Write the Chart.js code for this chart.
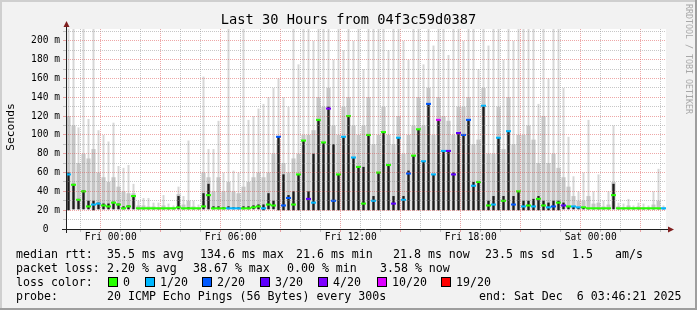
<!DOCTYPE html>
<html>
<head>
<meta charset="utf-8">
<title>Last 30 Hours from 04f3c59d0387</title>
<script src="https://cdn.jsdelivr.net/npm/chart.js@4.4.1/dist/chart.umd.min.js"></script>
<style>
  html, body { margin: 0; padding: 0; background: #f2f2f2; }
  #graph { position: relative; width: 697px; height: 310px; background: #f2f2f2; overflow: hidden;
           font-family: "DejaVu Sans Mono", monospace; color: #000; }
  #graph canvas { position: absolute; left: 0; top: 0; }
  .shade { position: absolute; }
  .txt { position: absolute; white-space: pre; font-size: 11.6px; line-height: 14px; }
  .box { position: absolute; top: 277px; width: 8px; height: 8px; border: 1px solid #000; }
  #title { position: absolute; left: 0; top: 11px; width: 697px; text-align: center;
           font-size: 13.7px; line-height: 16px; white-space: pre; }
  #ylabel { position: absolute; left: 10px; top: 127px; font-size: 11.3px; line-height: 13px;
            white-space: nowrap; transform: translate(-50%, -50%) rotate(-90deg); }
  #mark { position: absolute; left: 684px; top: 4px; writing-mode: vertical-rl; font-size: 8.3px;
          line-height: 10px; color: #a8a8a8; white-space: nowrap; }
</style>
</head>
<body>
<div id="graph">
  <canvas id="smoke" width="697" height="310"></canvas>
  <div class="shade" style="left:0;top:0;width:697px;height:2px;background:#cfcfcf"></div>
  <div class="shade" style="left:0;top:0;width:2px;height:310px;background:#cfcfcf"></div>
  <div class="shade" style="left:695px;top:0;width:2px;height:310px;background:#9e9e9e"></div>
  <div class="shade" style="left:0;top:308px;width:697px;height:2px;background:#9e9e9e"></div>

  <div id="title">Last 30 Hours from 04f3c59d0387</div>
  <div id="ylabel">Seconds</div>
  <div id="mark">RRDTOOL / TOBI OETIKER</div>

  <div class="txt" style="left:16px;top:247px">median rtt:</div>
  <div class="txt" style="left:107px;top:247px">35.5 ms avg</div>
  <div class="txt" style="left:200px;top:247px">134.6 ms max</div>
  <div class="txt" style="left:296px;top:247px">21.6 ms min</div>
  <div class="txt" style="left:393px;top:247px">21.8 ms now</div>
  <div class="txt" style="left:485px;top:247px">23.5 ms sd</div>
  <div class="txt" style="left:572px;top:247px">1.5</div>
  <div class="txt" style="left:615px;top:247px">am/s</div>

  <div class="txt" style="left:16px;top:261px">packet loss:</div>
  <div class="txt" style="left:107px;top:261px">2.20 % avg</div>
  <div class="txt" style="left:193px;top:261px">38.67 % max</div>
  <div class="txt" style="left:287px;top:261px">0.00 % min</div>
  <div class="txt" style="left:380px;top:261px">3.58 % now</div>

  <div class="txt" style="left:16px;top:275px">loss color:</div>
  <div class="box" style="left:108px;background:#26ff00"></div>
  <div class="txt" style="left:123px;top:275px">0</div>
  <div class="box" style="left:145px;background:#00b8ff"></div>
  <div class="txt" style="left:160px;top:275px">1/20</div>
  <div class="box" style="left:202px;background:#0059ff"></div>
  <div class="txt" style="left:217px;top:275px">2/20</div>
  <div class="box" style="left:260px;background:#5e00ff"></div>
  <div class="txt" style="left:275px;top:275px">3/20</div>
  <div class="box" style="left:318px;background:#7e00ff"></div>
  <div class="txt" style="left:333px;top:275px">4/20</div>
  <div class="box" style="left:377px;background:#dd00ff"></div>
  <div class="txt" style="left:392px;top:275px">10/20</div>
  <div class="box" style="left:441px;background:#ff0000"></div>
  <div class="txt" style="left:456px;top:275px">19/20</div>

  <div class="txt" style="left:16px;top:289px">probe:</div>
  <div class="txt" style="left:107px;top:289px">20 ICMP Echo Pings (56 Bytes) every 300s</div>
  <div class="txt" style="left:479px;top:289px">end: Sat Dec  6 03:46:21 2025</div>
</div>

<script>
// one sample every 15 minutes, 30 hours starting Thu 21:46
const sampleMinutes = 15;
const yMax = 212.6;

// smoke bottom, light spike top, dense smoke top, dark core top, median (ms)
const lo = [
  20, 21, 21, 21, 21, 20, 21, 21, 21, 21, 21, 21, 21, 21, 21, 21, 21, 21, 21, 21,
  21, 21, 21, 21, 21, 21, 21, 21, 21, 21, 21, 21, 21, 21, 21, 21, 21, 21, 21, 20,
  21, 21, 20, 20, 20, 20, 20, 20, 20, 20, 20, 20, 20, 20, 20, 20, 20, 20, 20, 20,
  20, 20, 20, 20, 20, 20, 20, 20, 20, 20, 20, 20, 20, 20, 20, 20, 20, 20, 20, 20,
  20, 20, 20, 20, 20, 20, 20, 20, 20, 20, 20, 20, 20, 20, 20, 20, 20, 20, 20, 21,
  21, 21, 21, 21, 21, 21, 21, 21, 21, 21, 21, 21, 21, 21, 21, 21, 21, 21, 21, 21
];
const hi = [
  213, 213, 108, 213, 117, 213, 105, 100, 93, 113, 67, 65, 68, 48, 30, 33, 33, 28, 28, 36,
  27, 25, 45, 35, 94, 30, 26, 162, 85, 85, 115, 60, 213, 62, 60, 213, 116, 120, 128, 133,
  140, 150, 160, 140, 130, 213, 175, 213, 213, 200, 213, 213, 213, 180, 213, 190, 213, 200, 213, 170,
  213, 213, 213, 213, 190, 213, 213, 200, 180, 213, 213, 175, 213, 195, 213, 213, 185, 213, 213, 200,
  213, 213, 170, 213, 195, 213, 213, 180, 213, 200, 213, 213, 213, 213, 133, 213, 160, 213, 213, 150,
  98, 56, 40, 60, 116, 40, 58, 30, 40, 110, 28, 27, 32, 25, 28, 27, 25, 40, 64, 25
];
const mid = [
  120, 110, 70, 80, 75, 85, 60, 55, 50, 55, 45, 40, 38, 38, 25, 25, 24, 24, 23, 25,
  23, 23, 37, 26, 30, 24, 23, 60, 55, 40, 55, 40, 50, 40, 38, 45, 50, 55, 60, 55,
  60, 80, 95, 70, 60, 75, 80, 100, 100, 105, 140, 130, 150, 110, 100, 130, 140, 110, 100, 110,
  140, 90, 100, 130, 100, 90, 120, 80, 100, 110, 140, 110, 150, 100, 140, 120, 115, 100, 130, 130,
  140, 90, 95, 150, 80, 80, 130, 85, 140, 90, 100, 100, 110, 95, 70, 120, 70, 80, 65, 55,
  45, 35, 30, 30, 35, 27, 28, 24, 26, 50, 24, 23, 25, 23, 24, 23, 23, 26, 30, 23
];
const dark = [
  60, 48, 32, 41, 30, 30, 28, 27, 27, 29, 27, 24, 25, 36, 22, 22, 22, 22, 22, 22,
  22, 22, 35, 22, 23, 22, 22, 38, 48, 24, 24, 23, 24, 23, 23, 24, 24, 25, 26, 26,
  38, 30, 98, 58, 36, 40, 58, 94, 40, 80, 116, 92, 130, 90, 58, 98, 120, 76, 66, 66,
  100, 35, 60, 103, 68, 35, 97, 35, 62, 78, 106, 72, 133, 58, 116, 83, 83, 60, 102, 100,
  116, 50, 50, 131, 30, 35, 97, 35, 104, 35, 40, 30, 30, 32, 35, 30, 28, 30, 30, 28,
  24, 24, 23, 23, 22, 22, 22, 22, 22, 48, 22, 22, 22, 22, 22, 22, 22, 22, 22, 22
];
const med = [
  58, 47, 31, 40, 24, 26, 27, 25, 24, 28, 26, 22, 24, 35, 22, 22, 22, 22, 22, 22,
  22, 22, 23, 22, 22, 22, 22, 24, 36, 22, 22, 22, 22, 22, 22, 22, 22, 23, 24, 22,
  26, 25, 98, 25, 33, 26, 58, 94, 32, 28, 116, 92, 128, 30, 58, 98, 120, 76, 66, 27,
  100, 30, 60, 103, 68, 27, 97, 31, 59, 78, 106, 72, 133, 58, 116, 83, 83, 58, 102, 100,
  116, 46, 50, 131, 25, 26, 97, 30, 104, 26, 40, 24, 25, 24, 32, 25, 23, 24, 28, 25,
  24, 24, 23, 23, 22, 22, 22, 22, 22, 36, 22, 22, 22, 22, 22, 22, 22, 22, 22, 22
];
// lost pings out of 20 per sample
const loss = [
  1, 0, 0, 0, 0, 1, 1, 0, 0, 0, 0, 0, 0, 0, 0, 0, 0, 0, 0, 0,
  0, 0, 0, 0, 0, 0, 0, 0, 0, 0, 0, 0, 1, 1, 1, 0, 0, 0, 0, 1,
  0, 0, 2, 2, 2, 0, 0, 0, 3, 1, 0, 0, 4, 2, 0, 1, 0, 1, 0, 0,
  0, 1, 0, 0, 0, 3, 1, 1, 2, 0, 0, 1, 2, 1, 10, 1, 3, 3, 3, 2,
  2, 1, 0, 1, 0, 1, 1, 0, 1, 2, 0, 1, 0, 1, 0, 0, 1, 2, 0, 3,
  0, 1, 1, 0, 0, 0, 0, 0, 0, 0, 0, 0, 0, 0, 0, 0, 0, 0, 0, 1
];

const lossLevels = [0, 1, 2, 3, 4, 10, 19];
const lossColors = ['#26ff00', '#00b8ff', '#0059ff', '#5e00ff', '#7e00ff', '#dd00ff', '#ff0000'];

// x ticks: every full hour, first one is Thu 22:00
const firstHour = 14 / 60;
const firstHourOfDay = 22;
const hourTicks = [];
for (let k = 0; k < 30; k++) hourTicks.push(firstHour + k);
const xLabels = { 2: 'Fri 00:00', 8: 'Fri 06:00', 14: 'Fri 12:00', 20: 'Fri 18:00', 26: 'Sat 00:00' };

const yTicks = [];
for (let v = 0; v <= 210; v += 10) yTicks.push(v);
const yLabels = { 0: '0  ', 20: '20 m', 40: '40 m', 60: '60 m', 80: '80 m', 100: '100 m',
                  120: '120 m', 140: '140 m', 160: '160 m', 180: '180 m', 200: '200 m' };

function lossColor(n) {
  let c = lossColors[0];
  lossLevels.forEach((lv, j) => { if (n >= lv) c = lossColors[j]; });
  return c;
}

const xs = med.map((v, i) => (i + 0.5) * sampleMinutes / 60);
const range = (a, b) => xs.map((x, i) => ({ x: x, y: [a[i], b[i]] }));
const medianBand = xs.map((x, i) => ({ x: x, y: [med[i] - 1.1, med[i] + 1.1] }));

const gridGrey = 'rgba(143,143,143,0.5)';
const gridRed = 'rgba(222,79,79,0.5)';
const tickFont = { family: 'DejaVu Sans Mono', size: 9.6, lineHeight: 1.2 };

const canvasBg = {
  id: 'canvasBg',
  beforeDraw(chart) {
    const { ctx, chartArea: a } = chart;
    ctx.save();
    ctx.fillStyle = '#ffffff';
    ctx.fillRect(a.left, a.top, a.right - a.left, a.bottom - a.top);
    ctx.restore();
  }
};

const axisArrows = {
  id: 'axisArrows',
  afterDraw(chart) {
    const { ctx, chartArea: a } = chart;
    const x0 = a.left + 0.5, y0 = a.bottom + 0.5;
    ctx.save();
    ctx.strokeStyle = '#1f1f1f';
    ctx.lineWidth = 1;
    ctx.beginPath();
    ctx.moveTo(a.left - 4, y0); ctx.lineTo(a.right + 3, y0);
    ctx.moveTo(x0, a.bottom + 4); ctx.lineTo(x0, a.top - 3);
    ctx.stroke();
    ctx.fillStyle = '#801f1f';
    ctx.beginPath();
    ctx.moveTo(x0, a.top - 8); ctx.lineTo(x0 - 3, a.top - 2); ctx.lineTo(x0 + 3, a.top - 2);
    ctx.closePath(); ctx.fill();
    ctx.beginPath();
    ctx.moveTo(a.right + 8, y0); ctx.lineTo(a.right + 2, y0 - 3); ctx.lineTo(a.right + 2, y0 + 3);
    ctx.closePath(); ctx.fill();
    ctx.restore();
  }
};

new Chart(document.getElementById('smoke'), {
  type: 'bar',
  data: {
    datasets: [
      { data: range(lo, hi), backgroundColor: '#d6d6d6', barThickness: 2, order: 5 },
      { data: range(lo, mid), backgroundColor: '#c4c4c4', barThickness: 4, order: 4 },
      { data: range(lo, dark), backgroundColor: '#8c8c8c', barThickness: 3, order: 3 },
      { data: range(lo, dark), backgroundColor: '#1c1c1c', barThickness: 2, order: 2 },
      { data: medianBand, backgroundColor: loss.map(lossColor), barThickness: 5, order: 1 }
    ]
  },
  options: {
    responsive: false,
    animation: false,
    events: [],
    datasets: { bar: { grouped: false, borderWidth: 0, inflateAmount: 0 } },
    layout: { padding: { left: 26, top: 29, right: 31, bottom: 61 } },
    plugins: { legend: { display: false }, tooltip: { enabled: false } },
    scales: {
      x: {
        type: 'linear', min: 0, max: 30, offset: false,
        afterFit: s => { s.height = 20; },
        afterBuildTicks: s => { s.ticks = hourTicks.map(v => ({ value: v })); },
        ticks: {
          autoSkip: false, maxRotation: 0, minRotation: 0, padding: 0, color: '#000', font: tickFont,
          callback: (v, i) => xLabels[i] || ''
        },
        grid: {
          color: ctx => ((firstHourOfDay + ctx.index) % 3 === 0 ? gridRed : gridGrey),
          tickLength: 3, z: 1, tickBorderDash: []
        },
        border: { display: false, dash: [1, 1] }
      },
      y: {
        min: 0, max: yMax,
        afterFit: s => { s.width = 40; },
        afterBuildTicks: s => { s.ticks = yTicks.map(v => ({ value: v })); },
        ticks: {
          autoSkip: false, padding: 3, color: '#000', font: tickFont,
          callback: v => yLabels[v] || ''
        },
        grid: {
          color: ctx => (ctx.tick && ctx.tick.value % 20 === 0 ? gridRed : gridGrey),
          tickLength: 3, z: 1, tickBorderDash: []
        },
        border: { display: false, dash: [1, 1] }
      }
    }
  },
  plugins: [canvasBg, axisArrows]
});
</script>
</body>
</html>
